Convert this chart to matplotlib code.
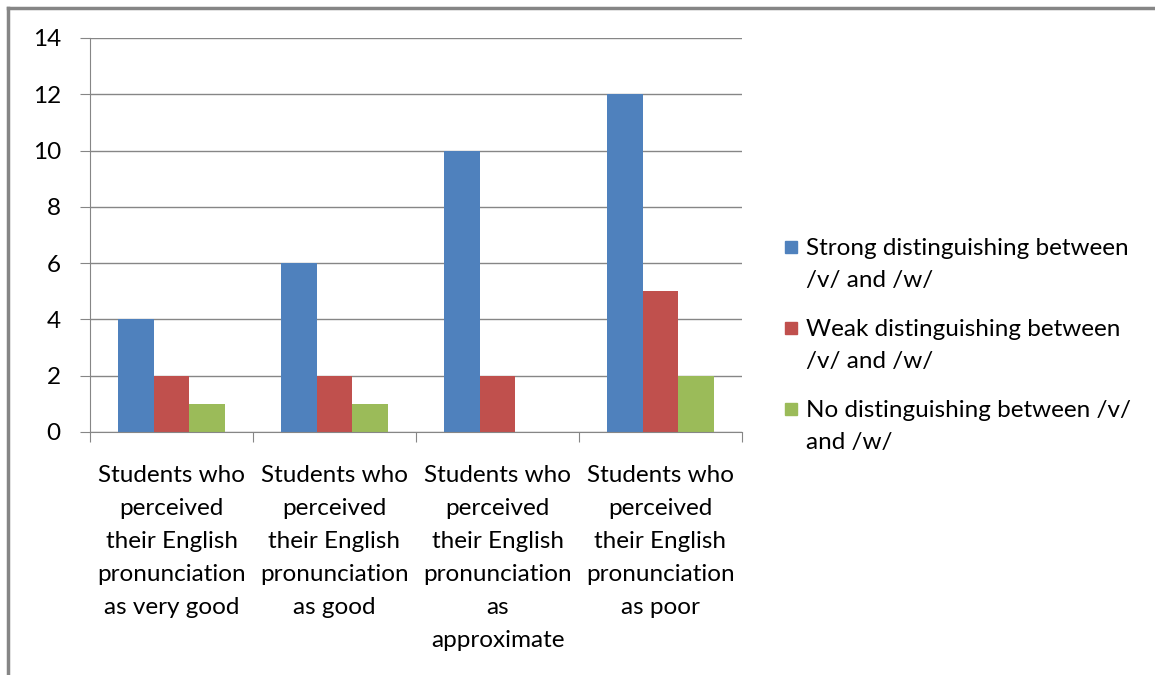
import matplotlib.pyplot as plt
import numpy as np
from matplotlib.lines import Line2D
from matplotlib.patches import Rectangle

categories = [
    "Students who\nperceived\ntheir English\npronunciation\nas very good",
    "Students who\nperceived\ntheir English\npronunciation\nas good",
    "Students who\nperceived\ntheir English\npronunciation\nas\napproximate",
    "Students who\nperceived\ntheir English\npronunciation\nas poor",
]
series_names = [
    "Strong distinguishing between\n/v/ and /w/",
    "Weak distinguishing between\n/v/ and /w/",
    "No distinguishing between /v/\nand /w/",
]
strong = [4, 6, 10, 12]
weak = [2, 2, 2, 5]
none_ = [1, 1, 0, 2]
colors = ["#4F81BD", "#C0504D", "#9BBB59"]

plt.rcParams["font.family"] = ["Lato", "DejaVu Sans"]
FS = 17.5
GRAY = "#868686"
W, H = 1155, 675

fig = plt.figure(figsize=(W / 100, H / 100), dpi=100)
ax = fig.add_axes([90 / W, 1 - 432 / H, (742 - 90) / W, (432 - 38) / H])

x = np.arange(len(categories))
w = 0.22
for i, vals in enumerate([strong, weak, none_]):
    ax.bar(x + (i - 1) * w, vals, width=w, color=colors[i], zorder=3)

ax.set_xlim(-0.5, 3.5)
ax.set_ylim(0, 14)
ax.set_yticks(range(0, 15, 2))
ax.grid(axis="y", color=GRAY, lw=1, zorder=0)
for s in ["top", "right"]:
    ax.spines[s].set_visible(False)
for s in ["left", "bottom"]:
    ax.spines[s].set_color(GRAY)
    ax.spines[s].set_zorder(4)

ax.set_xticks(np.arange(-0.5, 4, 1))
ax.set_xticklabels([])
ax.set_xticks(x, minor=True)
ax.set_xticklabels(categories, minor=True, fontsize=FS, linespacing=1.7)
ax.tick_params(axis="x", which="major", length=7, color=GRAY)
ax.tick_params(axis="x", which="minor", length=0, pad=24)
ax.tick_params(axis="y", length=7, color=GRAY, labelsize=FS, pad=14)

# legend, drawn by hand so the key sits on the first text line
for i, (name, c) in enumerate(zip(series_names, colors)):
    ytop = 247 + i * 81
    fig.add_artist(Rectangle((785 / W, 1 - (ytop + 6) / H), 12 / W, 12 / H,
                             color=c, transform=fig.transFigure))
    fig.text(806 / W, 1 - (ytop + 40) / H, name, fontsize=FS, va="baseline",
             linespacing=1.65, transform=fig.transFigure)

# outer chart frame
fig.add_artist(Line2D([8 / W, 1], [1 - 8 / H, 1 - 8 / H], color=GRAY, lw=2.5))
fig.add_artist(Line2D([8 / W, 8 / W], [0, 1 - 8 / H], color=GRAY, lw=2.5))

fig.savefig("out.png", dpi=100)
